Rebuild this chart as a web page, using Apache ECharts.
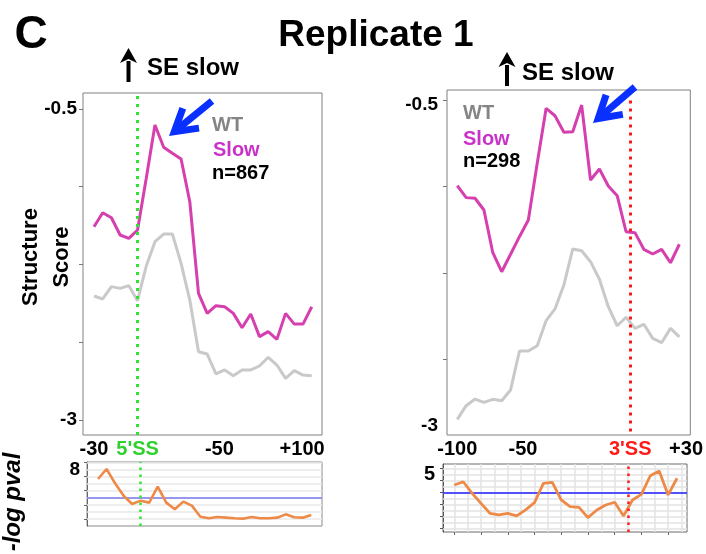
<!DOCTYPE html>
<html>
<head>
<meta charset="utf-8">
<script src="https://cdn.jsdelivr.net/npm/echarts@6/dist/echarts.min.js"></script>
<style>
  html, body { margin: 0; padding: 0; background: #fff; }
  #chart { width: 706px; height: 554px; }
</style>
</head>
<body>
<div id="chart"></div>
<script>
// Structure score profiles around the 5' splice site (left) and 3' splice site (right)
const leftWT   = [-2.003, -2.027, -1.928, -1.942, -1.920, -2.041, -1.762, -1.567, -1.505, -1.505, -1.741, -2.036, -2.451,
                  -2.470, -2.630, -2.598, -2.644, -2.598, -2.598, -2.566, -2.496, -2.558, -2.665, -2.603, -2.639, -2.644];
const leftSlow = [-1.446, -1.334, -1.374, -1.513, -1.540, -1.473, -1.057, -0.629, -0.808, -0.856, -0.902, -1.245, -1.982,
                  -2.143, -2.081, -2.090, -2.143, -2.258, -2.148, -2.330, -2.290, -2.352, -2.143, -2.229, -2.229, -2.090];
const rightWT   = [-2.949, -2.844, -2.793, -2.818, -2.795, -2.806, -2.723, -2.424, -2.424, -2.383, -2.191, -2.101, -1.917,
                   -1.640, -1.654, -1.738, -1.873, -2.084, -2.230, -2.165, -2.250, -2.219, -2.327, -2.360, -2.250, -2.315];
const rightSlow = [-1.154, -1.246, -1.251, -1.341, -1.669, -1.815, -1.681, -1.546, -1.418, -0.982, -0.560, -0.617, -0.744,
                   -0.740, -0.535, -1.111, -1.026, -1.157, -1.231, -1.508, -1.515, -1.643, -1.679, -1.643, -1.746, -1.604];

// -log p-values of the WT vs Slow difference at each position
const leftPval  = [6.66, 8.07, 6.04, 4.29, 3.12, 3.59, 3.31, 5.57, 3.31, 2.36, 3.45, 2.88, 1.32,
                   1.09, 1.27, 1.18, 1.09, 1.04, 1.27, 1.09, 1.09, 1.18, 1.65, 1.23, 1.18, 1.56];
const rightPval = [4.11, 4.38, 3.42, 2.58, 1.75, 1.61, 1.75, 1.53, 2.03, 2.64, 4.25, 4.33, 2.86,
                   2.30, 2.25, 1.39, 2.03, 2.44, 2.67, 1.53, 2.86, 3.33, 4.88, 5.28, 3.28, 4.67];
const leftThreshold = 4;
const rightThreshold = 3.5;

// splice-site positions (in position index units) and x tick labels
const site5 = 5;
const site3 = 19.47;
const leftXTickAt = [0, 5, 14.4, 23.9];
const leftXTickText = ['-30', "5'SS", '-50', '+100'];
const rightXTickAt = [0, 7.4, 19.47, 25.75];
const rightXTickText = ['-100', '-50', "3'SS", '+30'];

// y tick values
const scoreLabels = [-0.5, -3];
const leftScoreTicks = [-0.5, -1.125, -1.75, -2.375, -3];
const rightScoreTicks = [-0.5, -1.162, -1.823, -2.488];
const leftPvalLabels = [8];
const leftPvalTicks = [1, 3, 5, 7, 9];
const leftPvalGrid = [1, 2, 3, 4, 5, 6, 7, 8, 9];
const rightPvalLabels = [5];
const rightPvalTicks = [0.5, 1.5, 2.5, 3.5, 4.5, 5.5];
const rightPvalGrid = [0.5, 1, 1.5, 2, 2.5, 3, 3.5, 4, 4.5, 5, 5.5];
const rightPvalVGrid = [0, 1.5, 3, 4.5, 6, 7.5, 9, 10.5, 12, 13.5, 15, 16.5, 18, 19.5, 21, 22.5, 24, 25.5];
const rightPvalXTicks = [0, 3, 6, 9, 12, 15, 18, 21, 24];

const FONT = '"Liberation Sans", Arial, Helvetica, sans-serif';
const MAGENTA = '#d63fae';
const GRAY = '#c9c9c9';
const ORANGE = '#ee8a48';

const pts = arr => arr.map((v, i) => [i, v]);

function labelFor(values, texts) {
  return v => {
    for (let i = 0; i < values.length; i++) {
      if (Math.abs(values[i] - v) < 1e-6) {
        const t = texts[i];
        if (t.indexOf('5') === 0 && t.indexOf('SS') > 0) return '{g|' + t + '}';
        if (t.indexOf('3') === 0 && t.indexOf('SS') > 0) return '{r|' + t + '}';
        return '{k|' + t + '}';
      }
    }
    return '';
  };
}

const richX = {
  k: { color: '#000', fontWeight: 'bold', fontSize: 20, fontFamily: FONT },
  g: { color: '#2fd12f', fontWeight: 'bold', fontSize: 20, fontFamily: FONT },
  r: { color: '#ff1a1a', fontWeight: 'bold', fontSize: 20, fontFamily: FONT }
};

function mainXAxis(grid, min, max, at, texts) {
  return {
    type: 'value', gridIndex: grid, min: min, max: max,
    axisLine: { show: false, onZero: false }, axisTick: { show: false }, splitLine: { show: false },
    axisLabel: {
      customValues: at, formatter: labelFor(at, texts), rich: richX, margin: 4,
      hideOverlap: false, showMinLabel: true, showMaxLabel: true
    }
  };
}

const scoreRich = {
  s: { color: '#000', fontWeight: 'bold', fontSize: 19, fontFamily: FONT },
  d: { color: '#000', fontWeight: 'bold', fontSize: 19, fontFamily: FONT, padding: [9, 0, 0, 0] }
};

function scoreYAxis(grid, min, max, ticks, margin, topDrop) {
  return {
    type: 'value', gridIndex: grid, min: min, max: max,
    axisLine: { show: false, onZero: false }, splitLine: { show: false },
    axisTick: { show: true, customValues: ticks, length: 4, lineStyle: { color: '#777', width: 1 } },
    axisLabel: {
      customValues: scoreLabels, margin: margin,
      formatter: v => (topDrop && v === scoreLabels[0] ? '{d|' : '{s|') + String(v) + '}',
      rich: scoreRich
    }
  };
}

const dotted = (color, extra) => Object.assign({ color: color, width: 3, type: [3, 5], cap: 'butt' }, extra || {});

const baseMark = { symbol: ['none', 'none'], silent: true, label: { show: false }, animation: false };

const option = {
  animation: false,
  backgroundColor: '#fff',
  grid: [
    { left: 83, top: 93, width: 239, height: 342, show: true, borderColor: '#808080', borderWidth: 1 },
    { left: 447, top: 90, width: 244, height: 345, show: true, borderColor: '#808080', borderWidth: 1 },
    { left: 87, top: 462, width: 235, height: 64, show: true, borderColor: '#8a8a8a', borderWidth: 1 },
    { left: 443, top: 464, width: 244, height: 68, show: true, borderColor: '#6a6a6a', borderWidth: 1 }
  ],
  xAxis: [
    mainXAxis(0, -1.263, 26.18, leftXTickAt, leftXTickText),
    mainXAxis(1, -1.156, 26.23, rightXTickAt, rightXTickText),
    { type: 'value', gridIndex: 2, min: -1.293, max: 26.26, axisLine: { show: false, onZero: false },
      axisTick: { show: false }, axisLabel: { show: false }, splitLine: { show: false } },
    { type: 'value', gridIndex: 3, min: -1.268, max: 26.12, axisLine: { show: false, onZero: false },
      axisTick: { show: true, customValues: rightPvalXTicks, length: 3, lineStyle: { color: '#666' } },
      axisLabel: { show: false }, splitLine: { show: false } }
  ],
  yAxis: [
    scoreYAxis(0, -3.1206, -0.3714, leftScoreTicks, 6, false),
    scoreYAxis(1, -3.0691, -0.4194, rightScoreTicks, 9, true),
    { type: 'value', gridIndex: 2, min: 0, max: 9.065,
      axisLine: { show: true, onZero: false, lineStyle: { color: '#666', width: 1 } }, splitLine: { show: false },
      axisTick: { show: true, customValues: leftPvalTicks, length: 3, lineStyle: { color: '#666' } },
      axisLabel: { customValues: leftPvalLabels, margin: 7, color: '#000', fontWeight: 'bold', fontSize: 19, fontFamily: FONT } },
    { type: 'value', gridIndex: 3, min: 0.192, max: 5.858,
      axisLine: { show: true, onZero: false, lineStyle: { color: '#555', width: 1 } }, splitLine: { show: false },
      axisTick: { show: true, customValues: rightPvalTicks, length: 3, lineStyle: { color: '#555' } },
      axisLabel: { customValues: rightPvalLabels, margin: 8, color: '#000', fontWeight: 'bold', fontSize: 20, fontFamily: FONT } }
  ],
  series: [
    { type: 'line', xAxisIndex: 0, yAxisIndex: 0, data: pts(leftWT), showSymbol: false, z: 2,
      lineStyle: { color: GRAY, width: 3 } },
    { type: 'line', xAxisIndex: 0, yAxisIndex: 0, data: pts(leftSlow), showSymbol: false, z: 3,
      lineStyle: { color: MAGENTA, width: 3 },
      markLine: Object.assign({}, baseMark, { z: 4, lineStyle: dotted('#2ee62e'), data: [{ xAxis: site5 }] }) },
    { type: 'line', xAxisIndex: 1, yAxisIndex: 1, data: pts(rightWT), showSymbol: false, z: 2,
      lineStyle: { color: GRAY, width: 3 } },
    { type: 'line', xAxisIndex: 1, yAxisIndex: 1, data: pts(rightSlow), showSymbol: false, z: 3,
      lineStyle: { color: MAGENTA, width: 3 },
      markLine: Object.assign({}, baseMark, { z: 4, lineStyle: dotted('#ff1a1a'),
        data: [[{ coord: [site3, scoreLabels[0]] }, { coord: [site3, -3.0691] }]] }) },

    // grid lines and significance thresholds of the p-value panels
    { type: 'line', xAxisIndex: 2, yAxisIndex: 2, data: [], z: 1,
      markLine: Object.assign({}, baseMark, { z: 1,
        lineStyle: { color: '#e9e9e9', width: 1.5, type: 'solid' },
        data: leftPvalGrid.map(v => ({ yAxis: v })).concat([
          { yAxis: leftThreshold, lineStyle: { color: '#7a7aef', width: 1.6, type: 'solid' } }
        ]) }) },
    { type: 'line', xAxisIndex: 3, yAxisIndex: 3, data: [], z: 1,
      markLine: Object.assign({}, baseMark, { z: 1,
        lineStyle: { color: '#e3e3e3', width: 1.5, type: 'solid' },
        data: rightPvalGrid.map(v => ({ yAxis: v }))
          .concat(rightPvalVGrid.map(v => ({ xAxis: v })))
          .concat([{ yAxis: rightThreshold, lineStyle: { color: '#1f1fff', width: 1.5, type: 'solid' } }]) }) },

    { type: 'line', xAxisIndex: 2, yAxisIndex: 2, data: pts(leftPval), showSymbol: false, z: 3,
      lineStyle: { color: ORANGE, width: 2.6 },
      markLine: Object.assign({}, baseMark, { z: 4, lineStyle: dotted('#2ee62e', { width: 2.5, type: [2.5, 4.5] }), data: [{ xAxis: site5 }] }) },
    { type: 'line', xAxisIndex: 3, yAxisIndex: 3, data: pts(rightPval), showSymbol: false, z: 3,
      lineStyle: { color: ORANGE, width: 2.8 },
      markLine: Object.assign({}, baseMark, { z: 4, lineStyle: dotted('#ff1a1a', { width: 2.5, type: [2.5, 4.5] }), data: [{ xAxis: site3 }] }) }
  ],
  graphic: []
};

function txt(text, x, y, font, fill, align, rotation) {
  return {
    type: 'text', x: x, y: y, rotation: rotation || 0, silent: true, z: 100,
    style: { text: text, font: font, fill: fill, textAlign: align || 'left', textVerticalAlign: 'middle' }
  };
}

function upArrow(cx, top, bottom, headBottom) {
  return [
    { type: 'line', silent: true, z: 100, shape: { x1: cx, y1: bottom, x2: cx, y2: headBottom - 2 },
      style: { stroke: '#000', lineWidth: 4 } },
    { type: 'polygon', silent: true, z: 100,
      shape: { points: [[cx - 8.5, headBottom], [cx, top], [cx + 8.5, headBottom], [cx, headBottom - 4]] },
      style: { fill: '#000' } }
  ];
}

function blueArrow(tail, tip) {
  const dx = tail[0] - tip[0], dy = tail[1] - tip[1];
  const len = Math.hypot(dx, dy);
  const ux = dx / len, uy = dy / len;
  const a = 0.54, hl = 25, w = 7;
  const inset = (w / 2) / Math.sin(a);
  const t = [tip[0] + ux * inset, tip[1] + uy * inset];
  const rot = s => [ux * Math.cos(s) - uy * Math.sin(s), ux * Math.sin(s) + uy * Math.cos(s)];
  const b1 = rot(a), b2 = rot(-a);
  return [
    { type: 'polyline', silent: true, z: 100, shape: { points: [tail, t] },
      style: { stroke: '#0a30ff', lineWidth: w, fill: null } },
    { type: 'polyline', silent: true, z: 100,
      shape: { points: [[t[0] + b1[0] * hl, t[1] + b1[1] * hl], t, [t[0] + b2[0] * hl, t[1] + b2[1] * hl]] },
      style: { stroke: '#0a30ff', lineWidth: w, lineJoin: 'miter', fill: null } }
  ];
}

const B = s => 'bold ' + s + 'px ' + FONT;

option.graphic = [
  txt('C', 31, 35, B(46), '#000', 'center'),
  txt('Replicate 1', 376, 36, B(37), '#000', 'center'),
  ...upArrow(128.5, 48, 82, 63),
  txt('SE slow', 147, 68, B(24), '#000'),
  ...upArrow(507, 52, 86, 67),
  txt('SE slow', 522, 73, B(24), '#000'),
  ...blueArrow([212, 101], [169, 136]),
  ...blueArrow([635, 87], [593, 123]),
  txt('WT', 212, 125, B(20), '#858585'),
  txt('Slow', 213, 150, B(20), '#c832c8'),
  txt('n=867', 212, 173, B(20), '#000'),
  txt('WT', 463, 113, B(20), '#858585'),
  txt('Slow', 463, 139, B(20), '#c832c8'),
  txt('n=298', 463, 161, B(20), '#000'),
  txt('Structure', 31, 257, B(22), '#000', 'center', Math.PI / 2),
  txt('Score', 62, 257, B(22), '#000', 'center', Math.PI / 2),
  txt('-log pval', 13, 502, 'italic bold 24px ' + FONT, '#000', 'center', Math.PI / 2)
];

const chart = echarts.init(document.getElementById('chart'), null, { renderer: 'canvas' });
chart.setOption(option);
</script>
</body>
</html>
